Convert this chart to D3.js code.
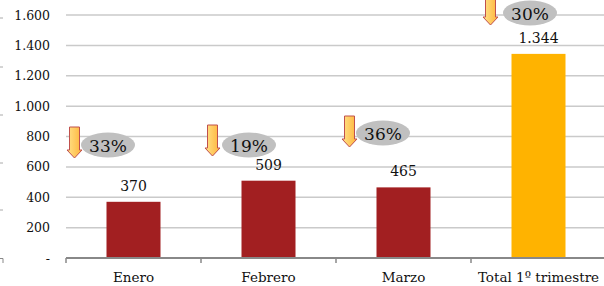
<!DOCTYPE html>
<html>
<head>
<meta charset="utf-8">
<script src="https://cdn.jsdelivr.net/npm/d3@7"></script>
<style>
  body { margin: 0; background: #fff; }
  svg text { font-family: "DejaVu Serif", "Liberation Serif", serif; fill: #111; }
</style>
</head>
<body>
<div id="chart"></div>
<script>
// chart data
const categories = ["Enero", "Febrero", "Marzo", "Total 1º trimestre"];
const values = [370, 509, 465, 1344];
const drops = ["33%", "19%", "36%", "30%"];
const yTicks = [0, 200, 400, 600, 800, 1000, 1200, 1400, 1600];

// hand placed annotation offsets (arrow left from band start, arrow top in px)
const arrowDx = [1, 4, 6, 12];
const arrowTop = [127, 125, 116, 0];
const ellipseDx = [42, 48, 47, 59];
const ellipseCy = [145, 145, 133, 13];

const W = 604, H = 286;
const margin = { top: 15, right: 0, bottom: 28, left: 66 };

const svg = d3.select("#chart").append("svg")
    .attr("width", W)
    .attr("height", H);

const x = d3.scaleBand()
    .domain(categories)
    .range([66, 606])
    .paddingInner(0.6)
    .paddingOuter(0.3);

const y = d3.scaleLinear()
    .domain([0, 1600])
    .range([258, 15]);

const fmt = d => d === 0 ? "-" : d3.format(",")(d).replace(/,/g, ".");

// gradient for the arrows
const defs = svg.append("defs");
const grad = defs.append("linearGradient")
    .attr("id", "arrowGrad")
    .attr("x1", 0).attr("x2", 1).attr("y1", 0).attr("y2", 0);
grad.append("stop").attr("offset", "0%").attr("stop-color", "#FFE38A");
grad.append("stop").attr("offset", "100%").attr("stop-color", "#FFB43A");

// leftover marks at the very left edge
[18, 67, 115, 163, 210].forEach(yy => {
    svg.append("line")
        .attr("x1", 0).attr("x2", 3)
        .attr("y1", yy).attr("y2", yy)
        .attr("stroke", "#aaa").attr("stroke-width", 1);
});
svg.append("path")
    .attr("d", "M0,258.5H3V263")
    .attr("fill", "none").attr("stroke", "#888").attr("stroke-width", 1);

// gridlines
svg.append("g")
    .selectAll("line")
    .data(yTicks.filter(d => d > 0))
    .join("line")
    .attr("x1", 66).attr("x2", W)
    .attr("y1", d => y(d)).attr("y2", d => y(d))
    .attr("stroke", "#cacaca")
    .attr("stroke-width", 1.5);

// y tick labels
svg.append("g")
    .selectAll("text")
    .data(yTicks)
    .join("text")
    .attr("x", 50)
    .attr("y", d => y(d) + 4.5)
    .attr("text-anchor", "end")
    .style("font-size", "12.5px")
    .text(fmt);

// bars
svg.append("g")
    .selectAll("rect")
    .data(values)
    .join("rect")
    .attr("x", (d, i) => x(categories[i]))
    .attr("width", x.bandwidth())
    .attr("y", d => y(d))
    .attr("height", d => y(0) - y(d))
    .attr("fill", (d, i) => i === 3 ? "#FFB300" : "#A21F21");

// x axis
const xAxis = d3.axisBottom(x).tickSize(0).tickPadding(14);
const gx = svg.append("g")
    .attr("transform", `translate(0, ${y(0)})`)
    .call(xAxis);
gx.select(".domain").remove();
gx.append("line")
    .attr("x1", 66).attr("x2", W)
    .attr("y1", 0).attr("y2", 0)
    .attr("stroke", "#888").attr("stroke-width", 2);
gx.selectAll(".bt")
    .data(categories)
    .join("line")
    .attr("class", "bt")
    .attr("x1", d => x(d) - x.step() * x.paddingInner() / 2)
    .attr("x2", d => x(d) - x.step() * x.paddingInner() / 2)
    .attr("y1", 0).attr("y2", 5)
    .attr("stroke", "#888").attr("stroke-width", 1.5);
gx.selectAll(".tick text")
    .style("font-size", "13.5px")
    .style("font-family", "'DejaVu Serif', serif")
    .attr("fill", "#111");

// value labels
svg.append("g")
    .selectAll("text")
    .data(values)
    .join("text")
    .attr("x", (d, i) => x(categories[i]) + x.bandwidth() / 2)
    .attr("y", d => y(d) - 11)
    .attr("text-anchor", "middle")
    .style("font-size", "14px")
    .text(fmt);

// down arrows + percentage bubbles
const bandStart = i => x(categories[i]) - x.step() * x.paddingInner() / 2;
const arrow = (x0, y0) => {
    const w = 10, hw = 15, L = 31, head = 8;
    return `M${x0 + (hw - w) / 2},${y0}h${w}v${L - head}h${(hw - w) / 2}` +
        `l${-hw / 2},${head}l${-hw / 2},${-head}h${(hw - w) / 2}z`;
};

const ann = svg.append("g");
drops.forEach((p, i) => {
    const ax = bandStart(i) + arrowDx[i];
    const top = arrowTop[i];
    ann.append("path")
        .attr("d", arrow(ax, top === 0 ? -6 : top))
        .attr("fill", "url(#arrowGrad)")
        .attr("stroke", "#C0504D")
        .attr("stroke-width", 1);
    const cx = bandStart(i) + ellipseDx[i];
    ann.append("ellipse")
        .attr("cx", cx).attr("cy", ellipseCy[i])
        .attr("rx", 27).attr("ry", 12.5)
        .attr("fill", "#C0C0C0");
    ann.append("text")
        .attr("x", cx).attr("y", ellipseCy[i] + 6.5)
        .attr("text-anchor", "middle")
        .style("font-size", "17px")
        .text(p);
});
</script>
</body>
</html>
